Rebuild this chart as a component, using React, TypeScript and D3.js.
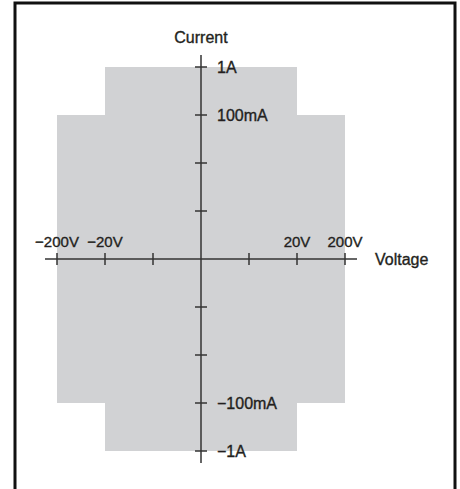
import React from "react";
import * as d3 from "d3";

const voltageTicks = [-200, -20, -2, 0, 2, 20, 200];
const voltageLabels = ["−200V", "−20V", "", "", "", "20V", "200V"];
const currentTicks = [1, 0.1, 0.01, 0.001, 0, -0.001, -0.01, -0.1, -1];
const currentLabels = ["1A", "100mA", "", "", "", "", "", "−100mA", "−1A"];
// operating envelope: |V| <= vMax allows |I| <= iMax
const regionVMax = [20, 200];
const regionIMax = [1, 0.1];

const W = 460;
const H = 489;

export default function App() {
  const x = d3.scalePoint<number>().domain(voltageTicks).range([57, 345]);
  const y = d3.scalePoint<number>().domain(currentTicks).range([67, 451]);
  const x0 = x(0)!;
  const y0 = y(0)!;
  const axisColor = "#333333";
  const textColor = "#231f20";
  const font = "'Liberation Sans', Arial, Helvetica, sans-serif";
  const textStroke = { stroke: textColor, strokeWidth: 0.35 };
  return (
    <svg
      width={W}
      height={H}
      style={{ position: "absolute", left: 0, top: 0, background: "#fff" }}
      fontFamily={font}
    >
      <rect x={0} y={0} width={W} height={H} fill="#fff" />
      {regionVMax.map((v, i) => (
        <rect
          key={i}
          x={x(-v)!}
          y={y(regionIMax[i])!}
          width={x(v)! - x(-v)!}
          height={y(-regionIMax[i])! - y(regionIMax[i])!}
          fill="#d1d2d4"
        />
      ))}
      {/* x axis */}
      <line x1={x(-200)! - 12} x2={x(200)! + 12} y1={y0} y2={y0} stroke={axisColor} strokeWidth={1.5} />
      {voltageTicks.map((v, i) => (
        <g key={"xt" + i}>
          {v !== 0 && (
            <line x1={x(v)!} x2={x(v)!} y1={y0 - 6} y2={y0 + 6} stroke={axisColor} strokeWidth={1.5} />
          )}
          {voltageLabels[i] && (
            <text x={x(v)!} y={y0 - 12} textAnchor="middle" fontSize={15} fill={textColor} {...textStroke}>
              {voltageLabels[i]}
            </text>
          )}
        </g>
      ))}
      {/* y axis */}
      <line x1={x0} x2={x0} y1={y(1)! - 12} y2={y(-1)! + 12} stroke={axisColor} strokeWidth={1.5} />
      {currentTicks.map((c, i) => (
        <g key={"yt" + i}>
          {c !== 0 && (
            <line x1={x0 - 6} x2={x0 + 6} y1={y(c)!} y2={y(c)!} stroke={axisColor} strokeWidth={1.5} />
          )}
          {currentLabels[i] && (
            <text x={x0 + 16} y={y(c)! + 5.5} textAnchor="start" fontSize={16} fill={textColor} {...textStroke}>
              {currentLabels[i]}
            </text>
          )}
        </g>
      ))}
      <text x={x0} y={43} textAnchor="middle" fontSize={16} fill={textColor} {...textStroke}>
        Current
      </text>
      <text x={x(200)! + 30} y={y0 + 5.5} textAnchor="start" fontSize={16} fill={textColor} {...textStroke}>
        Voltage
      </text>
      {/* frame */}
      <rect x={15} y={3} width={440} height={H + 20} fill="none" stroke="#111" strokeWidth={3} />
    </svg>
  );
}
